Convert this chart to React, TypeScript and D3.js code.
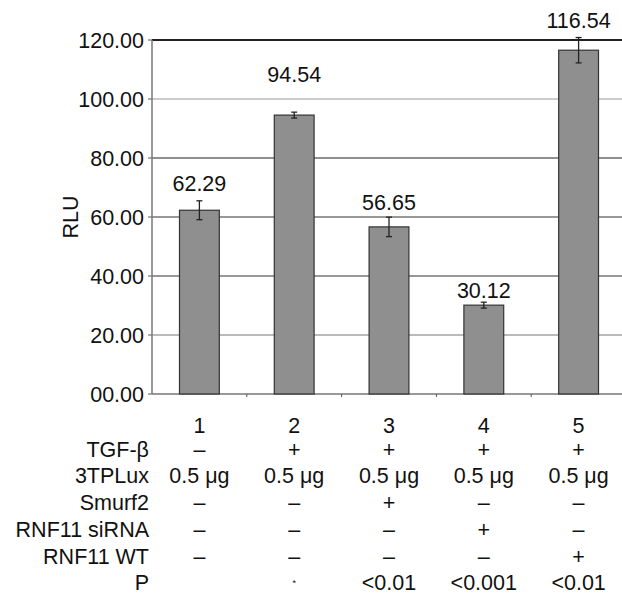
import React from "react";
import * as d3 from "d3";

const categories = ["1", "2", "3", "4", "5"];
const values = [62.29, 94.54, 56.65, 30.12, 116.54];
const errors = [3.2, 1.0, 3.3, 1.0, 4.3];
const yTicks = [0, 20, 40, 60, 80, 100, 120];
const rowLabels = ["TGF-β", "3TPLux", "Smurf2", "RNF11 siRNA", "RNF11 WT", "P"];
const rows = [
  ["–", "+", "+", "+", "+"],
  ["0.5 μg", "0.5 μg", "0.5 μg", "0.5 μg", "0.5 μg"],
  ["–", "–", "+", "–", "–"],
  ["–", "–", "–", "+", "–"],
  ["–", "–", "–", "–", "+"],
  ["", "*", "<0.01", "<0.001", "<0.01"],
];
// extra lift (px) of each value label above its error bar
const labelLift = [10, 30, 7, 4, 10];

const W = 622, H = 594;
const left = 152, right = 626, top = 40, bottom = 394;
const font = "Liberation Sans, Arial, sans-serif";
const gridStroke = ["#888", "#777", "#333", "#333", "#222", "#999", "#222"];
const fs = 21.5;

export default function App() {
  const x = d3.scaleBand<string>().domain(categories).range([left, right]).paddingInner(0.58).paddingOuter(0.29);
  const xc = d3.scaleBand<string>().domain(categories).range([left, right]);
  const y = d3.scaleLinear().domain([0, 120]).range([bottom, top]);
  const fmt = d3.format(".2f");
  const rowY0 = 449;
  const rowStep = 26.7;
  return (
    <svg width={W} height={H} style={{ position: "absolute", left: 0, top: 0, background: "#fff" }} fontFamily={font}>
      <rect x={0} y={0} width={W} height={H} fill="#fff" />
      {yTicks.map((t, i) => (
        <g key={t}>
          {t > 0 && (
            <line x1={left} x2={W} y1={y(t)} y2={y(t)} stroke={gridStroke[i]} strokeWidth={t === 120 ? 1.8 : 1.1} />
          )}
          <line x1={left - 4} x2={left} y1={y(t)} y2={y(t)} stroke="#555" />
          <text x={144} y={y(t)} dy="0.36em" textAnchor="end" fontSize={fs} fill="#111">
            {t === 0 ? "00.00" : fmt(t)}
          </text>
        </g>
      ))}
      <line x1={left} x2={left} y1={top} y2={bottom} stroke="#777" strokeWidth={1.5} />
      <line x1={left} x2={W} y1={bottom} y2={bottom} stroke="#777" strokeWidth={1.5} />
      {categories.slice(1).map((c) => (
        <line key={c} x1={xc(c)!} x2={xc(c)!} y1={bottom} y2={bottom + 3} stroke="#555" />
      ))}
      <text transform={`translate(78,${(top + bottom) / 2}) rotate(-90)`} textAnchor="middle" fontSize={fs} fill="#111">
        RLU
      </text>
      {categories.map((c, i) => {
        const bx = x(c)!;
        const bw = x.bandwidth();
        const cx = bx + bw / 2;
        return (
          <g key={c}>
            <rect x={bx} y={y(values[i])} width={bw} height={bottom - y(values[i])} fill="#8f8f8f" stroke="#333" strokeWidth={1.2} />
            <line x1={cx} x2={cx} y1={y(values[i] + errors[i])} y2={y(values[i] - errors[i])} stroke="#222" strokeWidth={1.3} />
            <line x1={cx - 3} x2={cx + 3} y1={y(values[i] + errors[i])} y2={y(values[i] + errors[i])} stroke="#222" strokeWidth={1.3} />
            <line x1={cx - 3} x2={cx + 3} y1={y(values[i] - errors[i])} y2={y(values[i] - errors[i])} stroke="#222" strokeWidth={1.3} />
            <text x={cx} y={y(values[i] + errors[i]) - labelLift[i]} textAnchor="middle" fontSize={fs} fill="#111">
              {fmt(values[i])}
            </text>
            <text x={xc(c)! + xc.bandwidth() / 2} y={425} dy="0.36em" textAnchor="middle" fontSize={fs} fill="#111">
              {c}
            </text>
          </g>
        );
      })}
      {rowLabels.map((lab, r) => (
        <g key={lab}>
          <text x={149} y={rowY0 + r * rowStep} dy="0.36em" textAnchor="end" fontSize={fs} fill="#111">
            {lab}
          </text>
          {rows[r].map((v, i) => (
            <text
              key={i}
              x={xc(categories[i])! + xc.bandwidth() / 2}
              y={rowY0 + r * rowStep}
              dy="0.36em"
              textAnchor="middle"
              fontSize={v === "*" ? 9 : fs}
              fill="#111"
            >
              {v}
            </text>
          ))}
        </g>
      ))}
    </svg>
  );
}
